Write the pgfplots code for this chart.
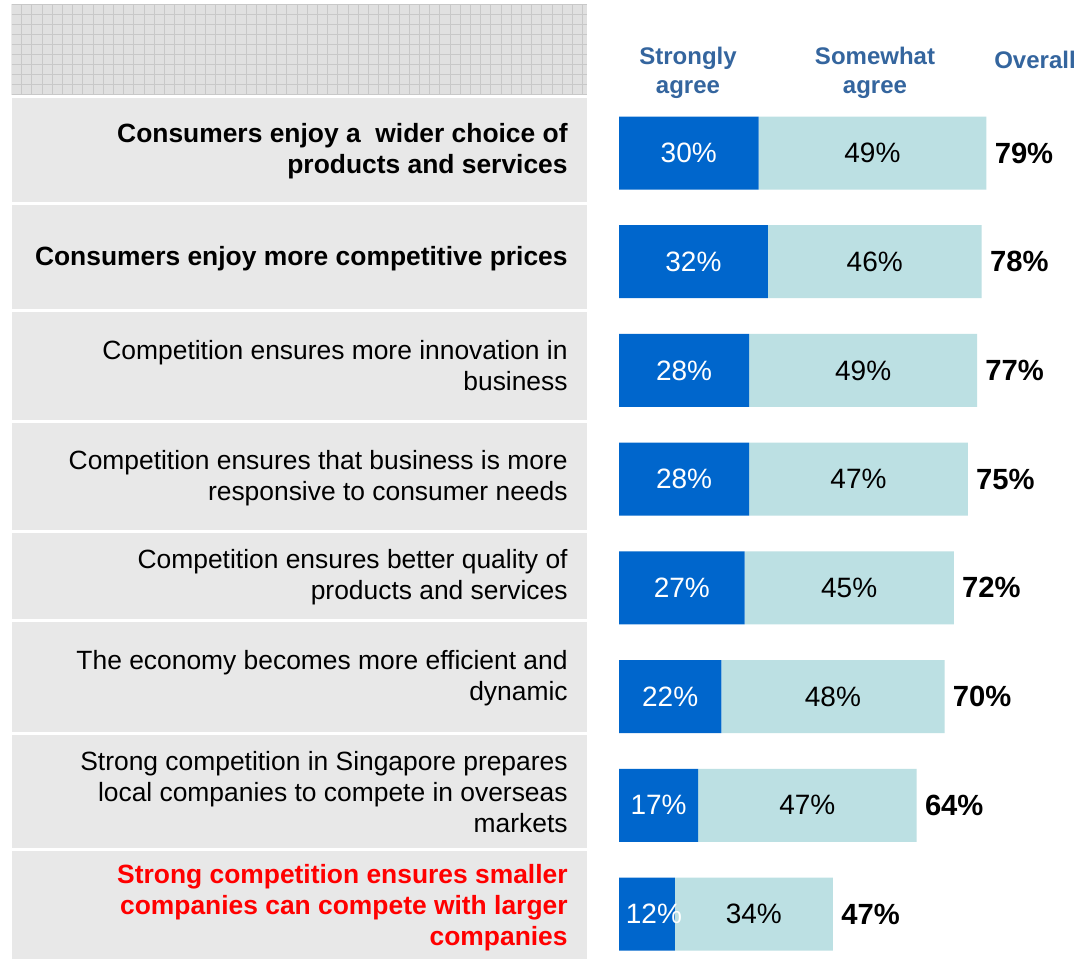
\documentclass[border=0pt]{standalone}
\usepackage{pgfplots}
\pgfplotsset{compat=1.18}
\usepackage{pgfplotstable}
\usepackage{fontspec}
\setmainfont{Liberation Sans}
\definecolor{dblue}{RGB}{0,102,204}
\definecolor{lblue}{RGB}{188,224,227}
\definecolor{boxgray}{RGB}{232,232,232}
\definecolor{gridbg}{RGB}{224,224,224}
\definecolor{gridln}{RGB}{200,200,200}
\definecolor{hdr}{RGB}{52,101,158}
\definecolor{redtxt}{RGB}{255,0,0}

\pgfplotstableread{
row strong some overall
1 30 49 79
2 32 46 78
3 28 49 77
4 28 47 75
5 27 45 72
6 22 48 70
7 17 47 64
8 12 34 47
}\datatable

\pgfplotsset{geom/.style={
  at={(0,0)}, anchor=north west,
  scale only axis, width=538.5pt, height=479.5pt,
  xmin=-133.118, xmax=98.495,
  ymin=-0.40736, ymax=8.41398, y dir=reverse,
  hide axis, clip=false}}

\newcommand{\lab}{\fontsize{13.2}{15.5}\selectfont}

\begin{document}
\begin{tikzpicture}
\begin{scope}[x=0.5pt,y=-0.5pt]
\fill[white] (0,0) rectangle (1077,959);
% grid box
\fill[gridbg] (11.5,4) rectangle (587,95);
\begin{scope}
\clip (11.5,4) rectangle (587,95);
\foreach \i in {0,...,57} \draw[gridln, line width=0.5pt] ({11.5+\i*10.2},4) -- ({11.5+\i*10.2},95);
\foreach \j in {0,...,9} \draw[gridln, line width=0.5pt] (11.5,{4+\j*10.1}) -- (587,{4+\j*10.1});
\end{scope}
% label boxes
\foreach \a/\b in {98/202,205/309,312/420,423/530,533/619,622/732,735/848,851/959}
  \fill[boxgray] (11.5,\a) rectangle (587,\b);
% labels
\begin{scope}[every node/.style={anchor=east, inner sep=0pt, align=right, font=\lab}]
\node[font=\lab\bfseries] at (568,151) {Consumers enjoy a\ \ wider choice of\\products and services};
\node[font=\lab\bfseries] at (568,258.5) {Consumers enjoy more competitive prices};
\node at (568,366) {Competition ensures more innovation in\\business};
\node at (568,478) {Competition ensures that business is more\\responsive to consumer needs};
\node at (568,577) {Competition ensures better quality of\\products and services};
\node at (568,678) {The economy becomes more efficient and\\dynamic};
\node at (568,792) {Strong competition in Singapore prepares\\local companies to compete in overseas\\markets};
\node[font=\lab\bfseries, text=redtxt] at (568,908) {Strong competition ensures smaller\\companies can compete with larger\\companies};
\end{scope}
% headers
\begin{scope}[every node/.style={inner sep=0pt, align=center, text=hdr, font=\fontsize{12}{14.5}\selectfont\bfseries}]
\node at (688,73) {Strongly\\agree};
\node at (875,73) {Somewhat\\agree};
\node at (1035,60) {Overall};
\end{scope}
\end{scope}

\begin{axis}[geom, xbar stacked, bar width=0.6715]
\addplot[fill=dblue, draw=none] table[x=strong, y=row] \datatable;
\addplot[fill=lblue, draw=none] table[x=some, y=row] \datatable;
\end{axis}

\begin{axis}[geom]
\addplot[draw=none, mark=none,
  point meta=explicit symbolic,
  nodes near coords={\pgfplotspointmeta\%},
  nodes near coords style={anchor=center, inner sep=0pt, text=white, font=\fontsize{14}{16}\selectfont}]
  table[x expr={max(\thisrow{strong}/2,7.5)}, y=row, meta=strong] \datatable;
\addplot[draw=none, mark=none,
  point meta=explicit symbolic,
  nodes near coords={\pgfplotspointmeta\%},
  nodes near coords style={anchor=center, inner sep=0pt, text=black, font=\fontsize{14}{16}\selectfont}]
  table[x expr=\thisrow{strong}+\thisrow{some}/2, y=row, meta=some] \datatable;
\addplot[draw=none, mark=none,
  point meta=explicit symbolic,
  nodes near coords={\pgfplotspointmeta\%},
  nodes near coords style={anchor=west, inner sep=0pt, xshift=4pt, text=black, font=\fontsize{14.6}{16}\selectfont\bfseries}]
  table[x expr=\thisrow{strong}+\thisrow{some}, y=row, meta=overall] \datatable;
\end{axis}
\end{tikzpicture}
\end{document}
